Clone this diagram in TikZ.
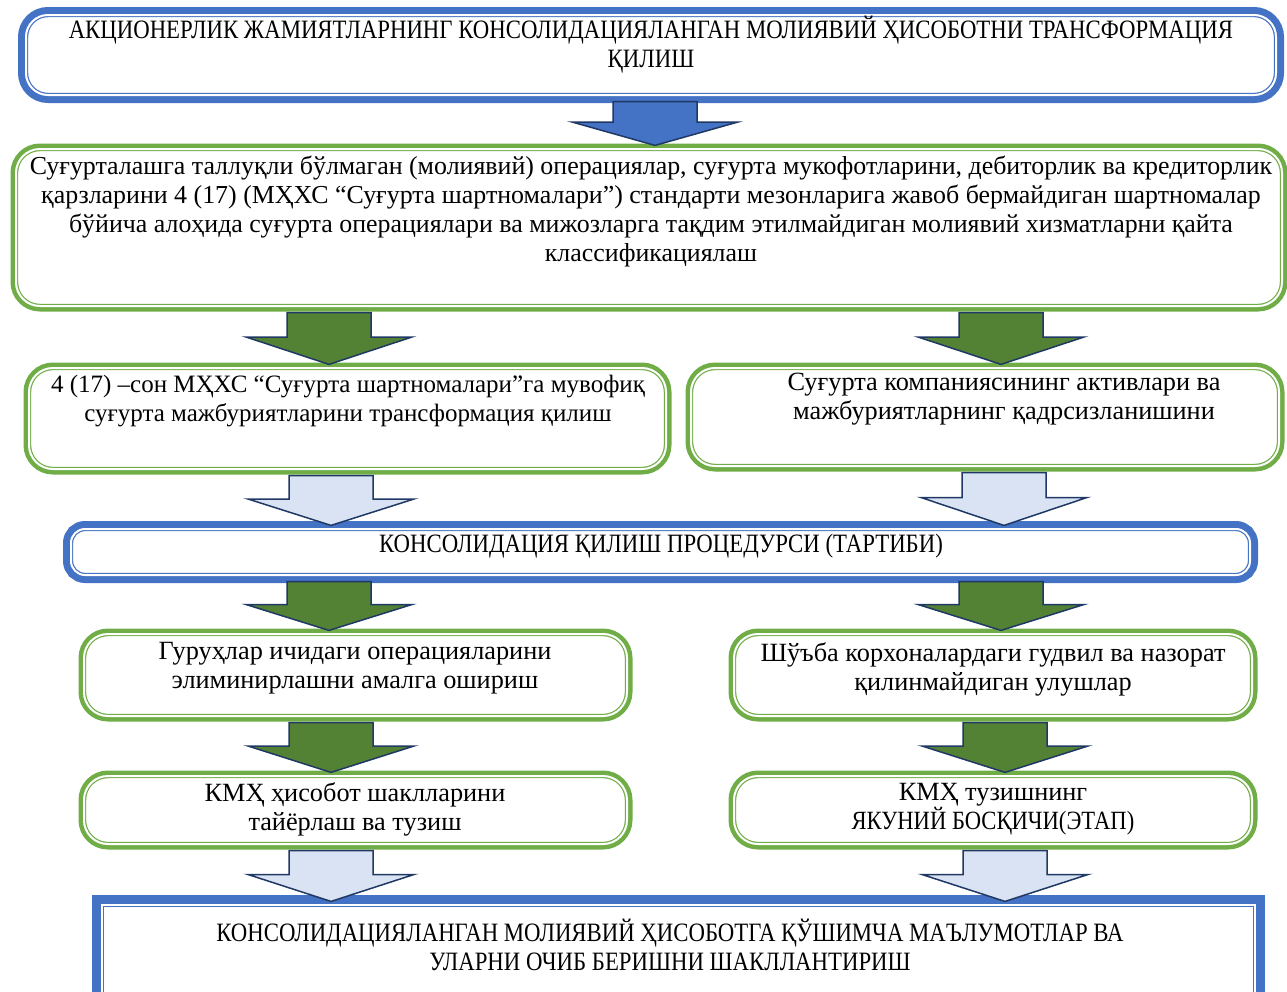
\documentclass[tikz,border=0pt]{standalone}
\usepackage{fontspec}
\setmainfont{Liberation Serif}
\newfontfamily\capsfont[FakeStretch=0.86]{Liberation Serif}
\usetikzlibrary{fit,calc}

\definecolor{frameblue}{HTML}{4472C4}
\definecolor{framegreen}{HTML}{70AD47}
\definecolor{arrowgreen}{HTML}{548235}
\definecolor{arrowpale}{HTML}{DAE3F3}
\definecolor{arrowline}{HTML}{1F3864}

\begin{document}
\begin{tikzpicture}[x=1pt,y=-1pt,
    bframe/.style={draw=frameblue,line width=1.2pt,double=white,double distance=2pt,
      fill=white,inner sep=0pt,rounded corners=#1,
      preaction={draw=frameblue,line width=16pt,rounded corners=#1}},
    bframe/.default=22pt,
    gframe/.style={draw=framegreen,line width=1.2pt,double=white,double distance=2pt,
      fill=white,inner sep=0pt,rounded corners=24pt,
      preaction={draw=framegreen,line width=11pt,rounded corners=24pt}},
    txt/.style={align=center,inner sep=0pt,font=\fontsize{26.3}{29}\selectfont},
    captxt/.style={txt,font=\fontsize{26.5}{29}\capsfont},
    barrow/.style={fill=frameblue,draw=arrowline,line width=1.5pt},
    garrow/.style={fill=arrowgreen,draw=arrowline,line width=1.5pt},
    parrow/.style={fill=arrowpale,draw=arrowline,line width=1.5pt}]
    \useasboundingbox (0,0) rectangle (1287,991);
    \clip (0,0) rectangle (1287,991);
    % frames
    \node[bframe,fit={(26,15) (1276,95)}] (b1) {};
    \node[gframe,fit={(16,149) (1282,306)}] (b2) {};
    \node[gframe,fit={(29,368) (666,469)}] (b3a) {};
    \node[gframe,fit={(691,368) (1279,466)}] (b3b) {};
    \node[bframe=14pt,fit={(71,529) (1250,575)}] (b4) {};
    \node[gframe,fit={(84,634) (627,716)}] (b5a) {};
    \node[gframe,fit={(734,634) (1252,716)}] (b5b) {};
    \node[gframe,fit={(84,776) (627,844)}] (b6a) {};
    \node[gframe,fit={(734,776) (1252,844)}] (b6b) {};
    \node[bframe=0pt,preaction={draw=frameblue,line width=20pt},fit={(102,905) (1255,1010)}] (b7) {};
    % texts
    \node[captxt] (t1) at (651,45) {АКЦИОНЕРЛИК ЖАМИЯТЛАРНИНГ КОНСОЛИДАЦИЯЛАНГАН МОЛИЯВИЙ ҲИСОБОТНИ ТРАНСФОРМАЦИЯ\\ҚИЛИШ};
    \node[txt,font=\fontsize{25.9}{29}\selectfont] (t2) at (651,211.5) {Суғурталашга таллуқли бўлмаган (молиявий) операциялар, суғурта мукофотларини, дебиторлик ва кредиторлик\\
      қарзларини 4 (17) (МҲХС “Суғурта шартномалари”) стандарти мезонларига жавоб бермайдиган шартномалар\\
      бўйича алоҳида суғурта операциялари ва мижозларга тақдим этилмайдиган молиявий хизматларни қайта\\
      классификациялаш};
    \node[txt,font=\fontsize{25}{29}\selectfont] (t3a) at (348,401) {4 (17) –сон МҲХС “Суғурта шартномалари”га мувофиқ\\суғурта мажбуриятларини трансформация қилиш};
    \node[txt] (t3b) at (1004,399) {Суғурта компаниясининг активлари ва\\мажбуриятларнинг қадрсизланишини};
    \node[captxt] (t4) at (661,546) {КОНСОЛИДАЦИЯ ҚИЛИШ ПРОЦЕДУРСИ (ТАРТИБИ)};
    \node[txt] (t5a) at (355,668.5) {Гуруҳлар ичидаги операцияларини\\элиминирлашни амалга ошириш};
    \node[txt] (t5b) at (993,669.5) {Шўъба корхоналардаги гудвил ва назорат\\қилинмайдиган улушлар};
    \node[txt] (t6a) at (355,809.5) {КМҲ ҳисобот шаклларини\\тайёрлаш ва тузиш};
    \node[txt] (t6b) at (993,809) {КМҲ тузишнинг\\{\capsfont ЯКУНИЙ БОСҚИЧИ(ЭТАП)}};
    \node[captxt] (t7) at (670,945) {КОНСОЛИДАЦИЯЛАНГАН МОЛИЯВИЙ ҲИСОБОТГА ҚЎШИМЧА МАЪЛУМОТЛАР ВА\\УЛАРНИ ОЧИБ БЕРИШНИ ШАКЛЛАНТИРИШ};
    % block arrows
    \foreach \st/\xc/\a/\b in {barrow/655/b1/b2, garrow/329/b2/b3a, garrow/1001/b2/b3b,
        parrow/331/b3a/b4, parrow/1004/b3b/b4, garrow/329/b4/b5a, garrow/1001/b4/b5b,
        garrow/331/b5a/b6a, garrow/1005/b5b/b6b, parrow/331/b6a/b7, parrow/1005/b6b/b7}
      \path[\st] let \p1=(\a.south), \p2=(\b.north), \n1={0.5*(\y1+\y2)} in
        ({\xc-42},\y1-6pt) -- ({\xc+42},\y1-6pt) -- ({\xc+42},\n1) -- ({\xc+83},\n1)
        -- (\xc,\y2+3pt) -- ({\xc-83},\n1) -- ({\xc-42},\n1) -- cycle;
\end{tikzpicture}
\end{document}
